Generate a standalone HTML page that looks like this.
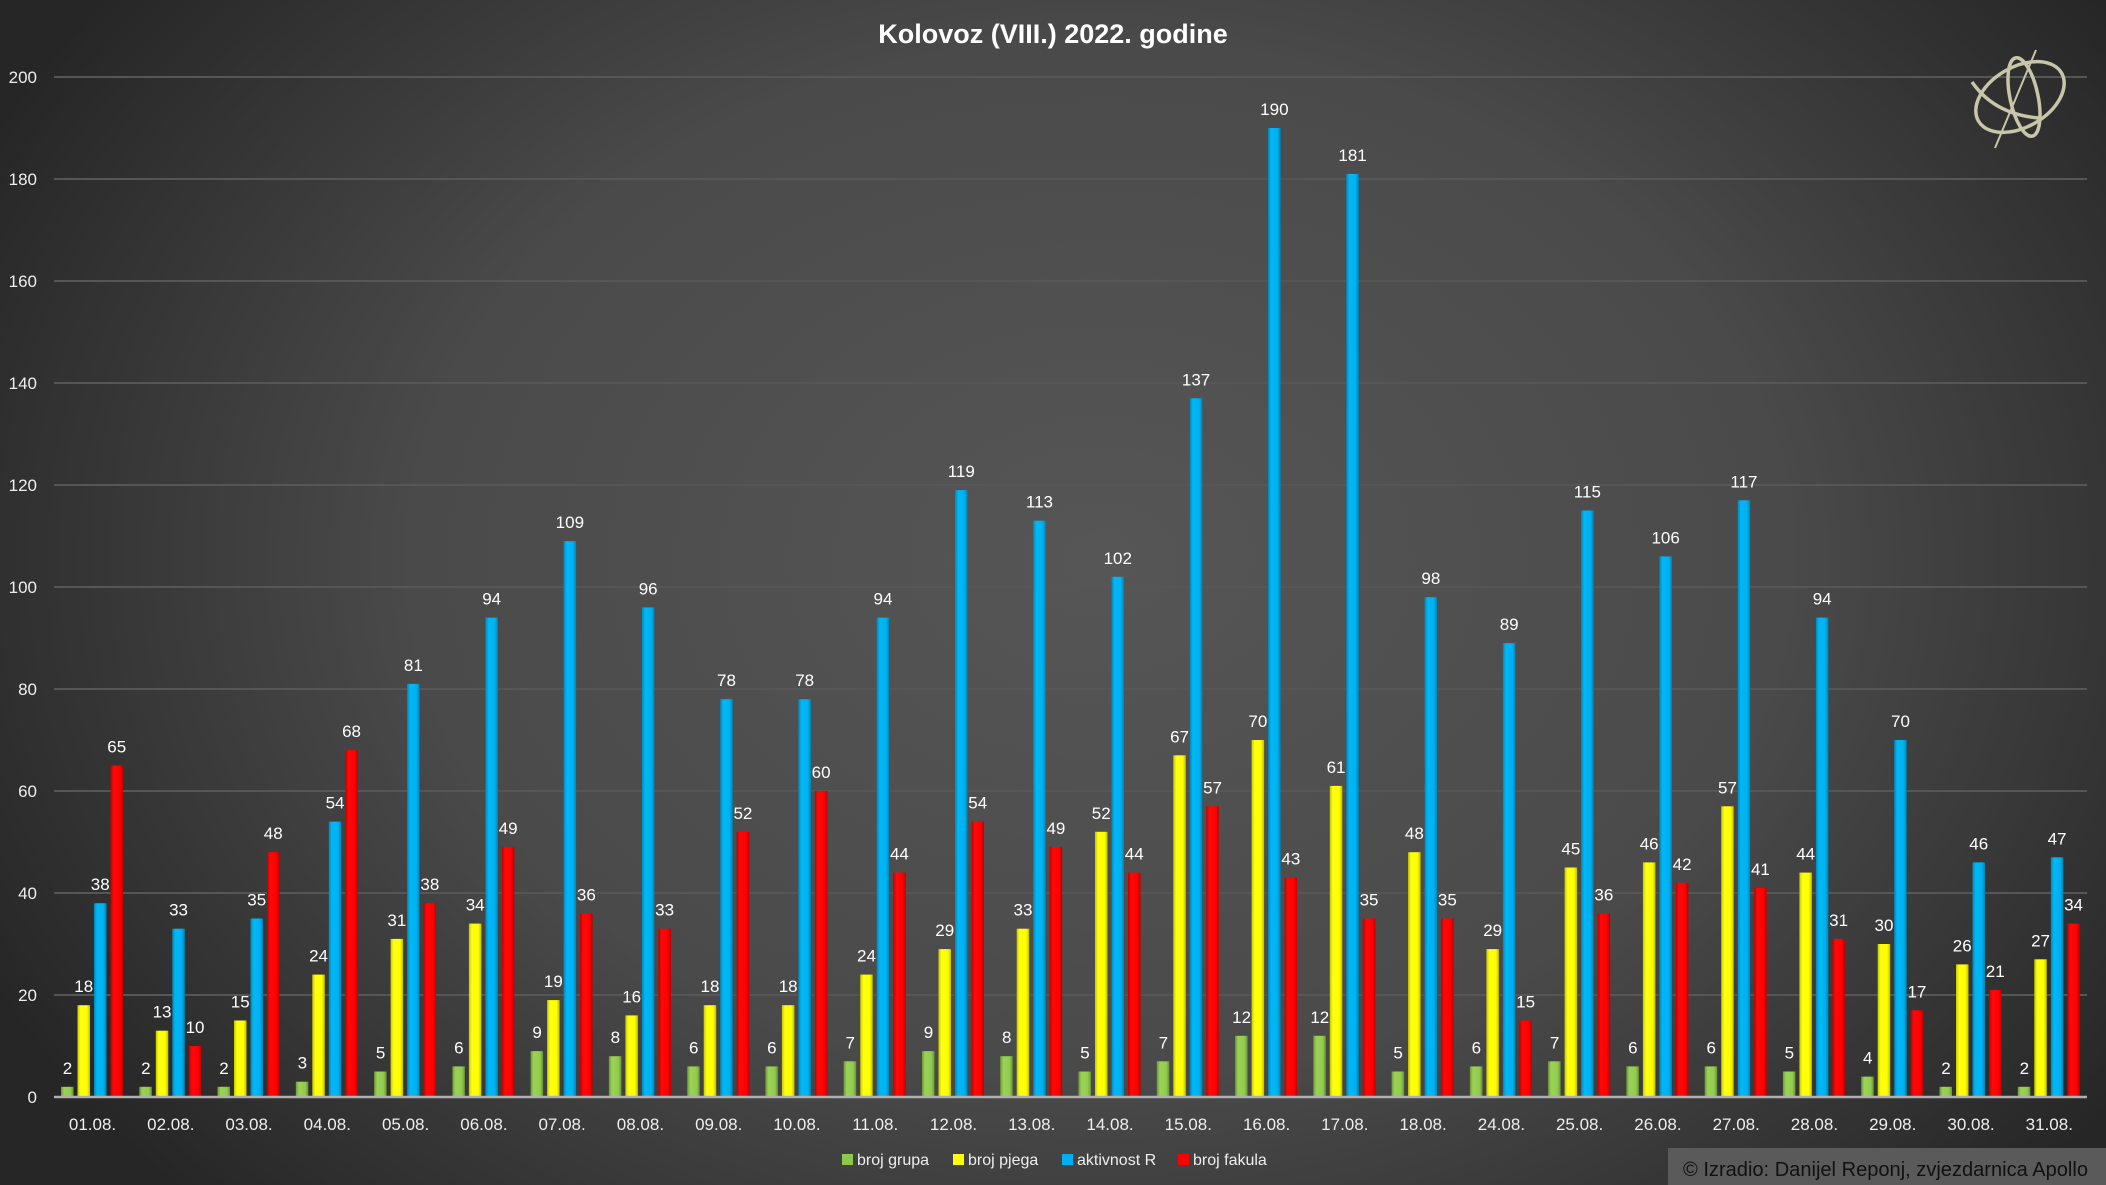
<!DOCTYPE html>
<html><head><meta charset="utf-8"><style>
html,body{margin:0;padding:0;background:#333;}
svg{display:block;}
text{font-family:"Liberation Sans",sans-serif;}
.v{fill:#fff;font-size:17px;text-anchor:middle;}
.ax{fill:#eee;font-size:17px;text-anchor:end;}
.xl{fill:#eee;font-size:17px;text-anchor:middle;}
.lg{fill:#eee;font-size:16px;}
.g{fill:url(#gg)}.y{fill:url(#gy)}.b{fill:url(#gb)}.r{fill:url(#gr)}
</style></head><body>
<svg width="2106" height="1185" viewBox="0 0 2106 1185" xmlns="http://www.w3.org/2000/svg">
<defs>
<radialGradient id="bg" cx="1100" cy="560" r="1250" gradientUnits="userSpaceOnUse" gradientTransform="translate(1100 560) scale(1 0.75) translate(-1100 -560)">
<stop offset="0" stop-color="#565656"/><stop offset="0.55" stop-color="#4a4a4a"/><stop offset="1" stop-color="#262626"/></radialGradient>
<linearGradient id="gg" x1="0" x2="1"><stop offset="0" stop-color="#6f9a3a"/><stop offset="0.25" stop-color="#9ad255"/><stop offset="0.75" stop-color="#92cc4e"/><stop offset="1" stop-color="#6a9436"/></linearGradient>
<linearGradient id="gy" x1="0" x2="1"><stop offset="0" stop-color="#c8c800"/><stop offset="0.25" stop-color="#ffff10"/><stop offset="0.75" stop-color="#ffff00"/><stop offset="1" stop-color="#c0c000"/></linearGradient>
<linearGradient id="gb" x1="0" x2="1"><stop offset="0" stop-color="#0088bb"/><stop offset="0.25" stop-color="#00b8f5"/><stop offset="0.75" stop-color="#00b0f0"/><stop offset="1" stop-color="#0084b4"/></linearGradient>
<linearGradient id="gr" x1="0" x2="1"><stop offset="0" stop-color="#c00000"/><stop offset="0.25" stop-color="#ff0808"/><stop offset="0.75" stop-color="#ff0000"/><stop offset="1" stop-color="#bb0000"/></linearGradient>
</defs>
<rect width="2106" height="1185" fill="url(#bg)"/>
<g stroke="#565656" stroke-width="2">
<line x1="54" x2="2087" y1="995" y2="995"/><line x1="54" x2="2087" y1="893" y2="893"/><line x1="54" x2="2087" y1="791" y2="791"/><line x1="54" x2="2087" y1="689" y2="689"/><line x1="54" x2="2087" y1="587" y2="587"/><line x1="54" x2="2087" y1="485" y2="485"/><line x1="54" x2="2087" y1="383" y2="383"/><line x1="54" x2="2087" y1="281" y2="281"/><line x1="54" x2="2087" y1="179" y2="179"/><line x1="54" x2="2087" y1="77" y2="77"/>
</g>
<g class="ax">
<text class="ax" x="37" y="1103">0</text><text class="ax" x="37" y="1001">20</text><text class="ax" x="37" y="899">40</text><text class="ax" x="37" y="797">60</text><text class="ax" x="37" y="695">80</text><text class="ax" x="37" y="593">100</text><text class="ax" x="37" y="491">120</text><text class="ax" x="37" y="389">140</text><text class="ax" x="37" y="287">160</text><text class="ax" x="37" y="185">180</text><text class="ax" x="37" y="83">200</text>
</g>
<text x="1053" y="43" fill="#fff" font-size="27" font-weight="bold" text-anchor="middle" style="font-family:'Liberation Sans',sans-serif">Kolovoz (VIII.) 2022. godine</text>

<g transform="translate(92.5,1097)"><g transform="scale(1,5.1)"><rect class="g" x="-31.5" y="-2" width="12.5" height="2"/><rect class="y" x="-15" y="-18" width="12.5" height="18"/><rect class="b" x="1.5" y="-38" width="12.5" height="38"/><rect class="r" x="18" y="-65" width="12.5" height="65"/></g><text class="v" x="-25" y="-23.2">2</text><text class="v" x="-8.75" y="-104.8">18</text><text class="v" x="7.75" y="-206.8">38</text><text class="v" x="24.25" y="-344.5">65</text><text class="xl" x="0" y="33">01.08.</text></g>
<g transform="translate(170.8,1097)"><g transform="scale(1,5.1)"><rect class="g" x="-31.5" y="-2" width="12.5" height="2"/><rect class="y" x="-15" y="-13" width="12.5" height="13"/><rect class="b" x="1.5" y="-33" width="12.5" height="33"/><rect class="r" x="18" y="-10" width="12.5" height="10"/></g><text class="v" x="-25" y="-23.2">2</text><text class="v" x="-8.75" y="-79.3">13</text><text class="v" x="7.75" y="-181.3">33</text><text class="v" x="24.25" y="-64">10</text><text class="xl" x="0" y="33">02.08.</text></g>
<g transform="translate(249,1097)"><g transform="scale(1,5.1)"><rect class="g" x="-31.5" y="-2" width="12.5" height="2"/><rect class="y" x="-15" y="-15" width="12.5" height="15"/><rect class="b" x="1.5" y="-35" width="12.5" height="35"/><rect class="r" x="18" y="-48" width="12.5" height="48"/></g><text class="v" x="-25" y="-23.2">2</text><text class="v" x="-8.75" y="-89.5">15</text><text class="v" x="7.75" y="-191.5">35</text><text class="v" x="24.25" y="-257.8">48</text><text class="xl" x="0" y="33">03.08.</text></g>
<g transform="translate(327.3,1097)"><g transform="scale(1,5.1)"><rect class="g" x="-31.5" y="-3" width="12.5" height="3"/><rect class="y" x="-15" y="-24" width="12.5" height="24"/><rect class="b" x="1.5" y="-54" width="12.5" height="54"/><rect class="r" x="18" y="-68" width="12.5" height="68"/></g><text class="v" x="-25" y="-28.3">3</text><text class="v" x="-8.75" y="-135.4">24</text><text class="v" x="7.75" y="-288.4">54</text><text class="v" x="24.25" y="-359.8">68</text><text class="xl" x="0" y="33">04.08.</text></g>
<g transform="translate(405.6,1097)"><g transform="scale(1,5.1)"><rect class="g" x="-31.5" y="-5" width="12.5" height="5"/><rect class="y" x="-15" y="-31" width="12.5" height="31"/><rect class="b" x="1.5" y="-81" width="12.5" height="81"/><rect class="r" x="18" y="-38" width="12.5" height="38"/></g><text class="v" x="-25" y="-38.5">5</text><text class="v" x="-8.75" y="-171.1">31</text><text class="v" x="7.75" y="-426.1">81</text><text class="v" x="24.25" y="-206.8">38</text><text class="xl" x="0" y="33">05.08.</text></g>
<g transform="translate(483.9,1097)"><g transform="scale(1,5.1)"><rect class="g" x="-31.5" y="-6" width="12.5" height="6"/><rect class="y" x="-15" y="-34" width="12.5" height="34"/><rect class="b" x="1.5" y="-94" width="12.5" height="94"/><rect class="r" x="18" y="-49" width="12.5" height="49"/></g><text class="v" x="-25" y="-43.6">6</text><text class="v" x="-8.75" y="-186.4">34</text><text class="v" x="7.75" y="-492.4">94</text><text class="v" x="24.25" y="-262.9">49</text><text class="xl" x="0" y="33">06.08.</text></g>
<g transform="translate(562.1,1097)"><g transform="scale(1,5.1)"><rect class="g" x="-31.5" y="-9" width="12.5" height="9"/><rect class="y" x="-15" y="-19" width="12.5" height="19"/><rect class="b" x="1.5" y="-109" width="12.5" height="109"/><rect class="r" x="18" y="-36" width="12.5" height="36"/></g><text class="v" x="-25" y="-58.9">9</text><text class="v" x="-8.75" y="-109.9">19</text><text class="v" x="7.75" y="-568.9">109</text><text class="v" x="24.25" y="-196.6">36</text><text class="xl" x="0" y="33">07.08.</text></g>
<g transform="translate(640.4,1097)"><g transform="scale(1,5.1)"><rect class="g" x="-31.5" y="-8" width="12.5" height="8"/><rect class="y" x="-15" y="-16" width="12.5" height="16"/><rect class="b" x="1.5" y="-96" width="12.5" height="96"/><rect class="r" x="18" y="-33" width="12.5" height="33"/></g><text class="v" x="-25" y="-53.8">8</text><text class="v" x="-8.75" y="-94.6">16</text><text class="v" x="7.75" y="-502.6">96</text><text class="v" x="24.25" y="-181.3">33</text><text class="xl" x="0" y="33">08.08.</text></g>
<g transform="translate(718.7,1097)"><g transform="scale(1,5.1)"><rect class="g" x="-31.5" y="-6" width="12.5" height="6"/><rect class="y" x="-15" y="-18" width="12.5" height="18"/><rect class="b" x="1.5" y="-78" width="12.5" height="78"/><rect class="r" x="18" y="-52" width="12.5" height="52"/></g><text class="v" x="-25" y="-43.6">6</text><text class="v" x="-8.75" y="-104.8">18</text><text class="v" x="7.75" y="-410.8">78</text><text class="v" x="24.25" y="-278.2">52</text><text class="xl" x="0" y="33">09.08.</text></g>
<g transform="translate(796.9,1097)"><g transform="scale(1,5.1)"><rect class="g" x="-31.5" y="-6" width="12.5" height="6"/><rect class="y" x="-15" y="-18" width="12.5" height="18"/><rect class="b" x="1.5" y="-78" width="12.5" height="78"/><rect class="r" x="18" y="-60" width="12.5" height="60"/></g><text class="v" x="-25" y="-43.6">6</text><text class="v" x="-8.75" y="-104.8">18</text><text class="v" x="7.75" y="-410.8">78</text><text class="v" x="24.25" y="-319">60</text><text class="xl" x="0" y="33">10.08.</text></g>
<g transform="translate(875.2,1097)"><g transform="scale(1,5.1)"><rect class="g" x="-31.5" y="-7" width="12.5" height="7"/><rect class="y" x="-15" y="-24" width="12.5" height="24"/><rect class="b" x="1.5" y="-94" width="12.5" height="94"/><rect class="r" x="18" y="-44" width="12.5" height="44"/></g><text class="v" x="-25" y="-48.7">7</text><text class="v" x="-8.75" y="-135.4">24</text><text class="v" x="7.75" y="-492.4">94</text><text class="v" x="24.25" y="-237.4">44</text><text class="xl" x="0" y="33">11.08.</text></g>
<g transform="translate(953.5,1097)"><g transform="scale(1,5.1)"><rect class="g" x="-31.5" y="-9" width="12.5" height="9"/><rect class="y" x="-15" y="-29" width="12.5" height="29"/><rect class="b" x="1.5" y="-119" width="12.5" height="119"/><rect class="r" x="18" y="-54" width="12.5" height="54"/></g><text class="v" x="-25" y="-58.9">9</text><text class="v" x="-8.75" y="-160.9">29</text><text class="v" x="7.75" y="-619.9">119</text><text class="v" x="24.25" y="-288.4">54</text><text class="xl" x="0" y="33">12.08.</text></g>
<g transform="translate(1031.7,1097)"><g transform="scale(1,5.1)"><rect class="g" x="-31.5" y="-8" width="12.5" height="8"/><rect class="y" x="-15" y="-33" width="12.5" height="33"/><rect class="b" x="1.5" y="-113" width="12.5" height="113"/><rect class="r" x="18" y="-49" width="12.5" height="49"/></g><text class="v" x="-25" y="-53.8">8</text><text class="v" x="-8.75" y="-181.3">33</text><text class="v" x="7.75" y="-589.3">113</text><text class="v" x="24.25" y="-262.9">49</text><text class="xl" x="0" y="33">13.08.</text></g>
<g transform="translate(1110,1097)"><g transform="scale(1,5.1)"><rect class="g" x="-31.5" y="-5" width="12.5" height="5"/><rect class="y" x="-15" y="-52" width="12.5" height="52"/><rect class="b" x="1.5" y="-102" width="12.5" height="102"/><rect class="r" x="18" y="-44" width="12.5" height="44"/></g><text class="v" x="-25" y="-38.5">5</text><text class="v" x="-8.75" y="-278.2">52</text><text class="v" x="7.75" y="-533.2">102</text><text class="v" x="24.25" y="-237.4">44</text><text class="xl" x="0" y="33">14.08.</text></g>
<g transform="translate(1188.3,1097)"><g transform="scale(1,5.1)"><rect class="g" x="-31.5" y="-7" width="12.5" height="7"/><rect class="y" x="-15" y="-67" width="12.5" height="67"/><rect class="b" x="1.5" y="-137" width="12.5" height="137"/><rect class="r" x="18" y="-57" width="12.5" height="57"/></g><text class="v" x="-25" y="-48.7">7</text><text class="v" x="-8.75" y="-354.7">67</text><text class="v" x="7.75" y="-711.7">137</text><text class="v" x="24.25" y="-303.7">57</text><text class="xl" x="0" y="33">15.08.</text></g>
<g transform="translate(1266.6,1097)"><g transform="scale(1,5.1)"><rect class="g" x="-31.5" y="-12" width="12.5" height="12"/><rect class="y" x="-15" y="-70" width="12.5" height="70"/><rect class="b" x="1.5" y="-190" width="12.5" height="190"/><rect class="r" x="18" y="-43" width="12.5" height="43"/></g><text class="v" x="-25" y="-74.2">12</text><text class="v" x="-8.75" y="-370">70</text><text class="v" x="7.75" y="-982">190</text><text class="v" x="24.25" y="-232.3">43</text><text class="xl" x="0" y="33">16.08.</text></g>
<g transform="translate(1344.8,1097)"><g transform="scale(1,5.1)"><rect class="g" x="-31.5" y="-12" width="12.5" height="12"/><rect class="y" x="-15" y="-61" width="12.5" height="61"/><rect class="b" x="1.5" y="-181" width="12.5" height="181"/><rect class="r" x="18" y="-35" width="12.5" height="35"/></g><text class="v" x="-25" y="-74.2">12</text><text class="v" x="-8.75" y="-324.1">61</text><text class="v" x="7.75" y="-936.1">181</text><text class="v" x="24.25" y="-191.5">35</text><text class="xl" x="0" y="33">17.08.</text></g>
<g transform="translate(1423.1,1097)"><g transform="scale(1,5.1)"><rect class="g" x="-31.5" y="-5" width="12.5" height="5"/><rect class="y" x="-15" y="-48" width="12.5" height="48"/><rect class="b" x="1.5" y="-98" width="12.5" height="98"/><rect class="r" x="18" y="-35" width="12.5" height="35"/></g><text class="v" x="-25" y="-38.5">5</text><text class="v" x="-8.75" y="-257.8">48</text><text class="v" x="7.75" y="-512.8">98</text><text class="v" x="24.25" y="-191.5">35</text><text class="xl" x="0" y="33">18.08.</text></g>
<g transform="translate(1501.4,1097)"><g transform="scale(1,5.1)"><rect class="g" x="-31.5" y="-6" width="12.5" height="6"/><rect class="y" x="-15" y="-29" width="12.5" height="29"/><rect class="b" x="1.5" y="-89" width="12.5" height="89"/><rect class="r" x="18" y="-15" width="12.5" height="15"/></g><text class="v" x="-25" y="-43.6">6</text><text class="v" x="-8.75" y="-160.9">29</text><text class="v" x="7.75" y="-466.9">89</text><text class="v" x="24.25" y="-89.5">15</text><text class="xl" x="0" y="33">24.08.</text></g>
<g transform="translate(1579.6,1097)"><g transform="scale(1,5.1)"><rect class="g" x="-31.5" y="-7" width="12.5" height="7"/><rect class="y" x="-15" y="-45" width="12.5" height="45"/><rect class="b" x="1.5" y="-115" width="12.5" height="115"/><rect class="r" x="18" y="-36" width="12.5" height="36"/></g><text class="v" x="-25" y="-48.7">7</text><text class="v" x="-8.75" y="-242.5">45</text><text class="v" x="7.75" y="-599.5">115</text><text class="v" x="24.25" y="-196.6">36</text><text class="xl" x="0" y="33">25.08.</text></g>
<g transform="translate(1657.9,1097)"><g transform="scale(1,5.1)"><rect class="g" x="-31.5" y="-6" width="12.5" height="6"/><rect class="y" x="-15" y="-46" width="12.5" height="46"/><rect class="b" x="1.5" y="-106" width="12.5" height="106"/><rect class="r" x="18" y="-42" width="12.5" height="42"/></g><text class="v" x="-25" y="-43.6">6</text><text class="v" x="-8.75" y="-247.6">46</text><text class="v" x="7.75" y="-553.6">106</text><text class="v" x="24.25" y="-227.2">42</text><text class="xl" x="0" y="33">26.08.</text></g>
<g transform="translate(1736.2,1097)"><g transform="scale(1,5.1)"><rect class="g" x="-31.5" y="-6" width="12.5" height="6"/><rect class="y" x="-15" y="-57" width="12.5" height="57"/><rect class="b" x="1.5" y="-117" width="12.5" height="117"/><rect class="r" x="18" y="-41" width="12.5" height="41"/></g><text class="v" x="-25" y="-43.6">6</text><text class="v" x="-8.75" y="-303.7">57</text><text class="v" x="7.75" y="-609.7">117</text><text class="v" x="24.25" y="-222.1">41</text><text class="xl" x="0" y="33">27.08.</text></g>
<g transform="translate(1814.4,1097)"><g transform="scale(1,5.1)"><rect class="g" x="-31.5" y="-5" width="12.5" height="5"/><rect class="y" x="-15" y="-44" width="12.5" height="44"/><rect class="b" x="1.5" y="-94" width="12.5" height="94"/><rect class="r" x="18" y="-31" width="12.5" height="31"/></g><text class="v" x="-25" y="-38.5">5</text><text class="v" x="-8.75" y="-237.4">44</text><text class="v" x="7.75" y="-492.4">94</text><text class="v" x="24.25" y="-171.1">31</text><text class="xl" x="0" y="33">28.08.</text></g>
<g transform="translate(1892.7,1097)"><g transform="scale(1,5.1)"><rect class="g" x="-31.5" y="-4" width="12.5" height="4"/><rect class="y" x="-15" y="-30" width="12.5" height="30"/><rect class="b" x="1.5" y="-70" width="12.5" height="70"/><rect class="r" x="18" y="-17" width="12.5" height="17"/></g><text class="v" x="-25" y="-33.4">4</text><text class="v" x="-8.75" y="-166">30</text><text class="v" x="7.75" y="-370">70</text><text class="v" x="24.25" y="-99.7">17</text><text class="xl" x="0" y="33">29.08.</text></g>
<g transform="translate(1971,1097)"><g transform="scale(1,5.1)"><rect class="g" x="-31.5" y="-2" width="12.5" height="2"/><rect class="y" x="-15" y="-26" width="12.5" height="26"/><rect class="b" x="1.5" y="-46" width="12.5" height="46"/><rect class="r" x="18" y="-21" width="12.5" height="21"/></g><text class="v" x="-25" y="-23.2">2</text><text class="v" x="-8.75" y="-145.6">26</text><text class="v" x="7.75" y="-247.6">46</text><text class="v" x="24.25" y="-120.1">21</text><text class="xl" x="0" y="33">30.08.</text></g>
<g transform="translate(2049.3,1097)"><g transform="scale(1,5.1)"><rect class="g" x="-31.5" y="-2" width="12.5" height="2"/><rect class="y" x="-15" y="-27" width="12.5" height="27"/><rect class="b" x="1.5" y="-47" width="12.5" height="47"/><rect class="r" x="18" y="-34" width="12.5" height="34"/></g><text class="v" x="-25" y="-23.2">2</text><text class="v" x="-8.75" y="-150.7">27</text><text class="v" x="7.75" y="-252.7">47</text><text class="v" x="24.25" y="-186.4">34</text><text class="xl" x="0" y="33">31.08.</text></g>

<line x1="54" x2="2087" y1="1097" y2="1097" stroke="#b0b0b0" stroke-width="2.5"/>

<rect x="842" y="1154" width="11" height="11" fill="#8cc84b"/><text class="lg" x="857" y="1165">broj grupa</text>
<rect x="953" y="1154" width="11" height="11" fill="#ffff00"/><text class="lg" x="968" y="1165">broj pjega</text>
<rect x="1062" y="1154" width="11" height="11" fill="#00b0f0"/><text class="lg" x="1077" y="1165">aktivnost R</text>
<rect x="1178" y="1154" width="11" height="11" fill="#ff0000"/><text class="lg" x="1193" y="1165">broj fakula</text>

<g fill="none" stroke="#c8c6a8" stroke-width="3.5">
<ellipse cx="2020" cy="97" rx="48" ry="30" transform="rotate(-30 2020 97)"/>
<ellipse cx="2024" cy="97" rx="14" ry="40" transform="rotate(-12 2024 97)"/>
<path d="M1972 82 Q1995 115 2040 118"/>
<line x1="1995" y1="148" x2="2036" y2="50" stroke-width="2"/>
</g>

<rect x="1668" y="1148" width="438" height="37" fill="#5a5a5a"/>
<text x="1683" y="1176" fill="#111" font-size="20" textLength="405" lengthAdjust="spacingAndGlyphs">© Izradio: Danijel Reponj, zvjezdarnica Apollo</text>
</svg>
</body></html>
